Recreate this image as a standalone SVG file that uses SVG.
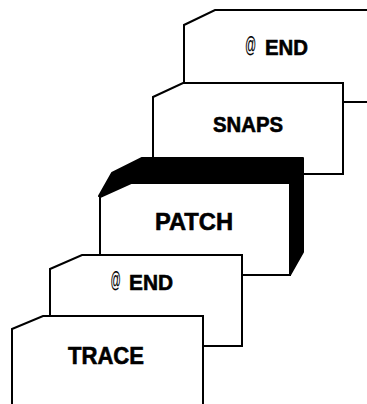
<svg xmlns="http://www.w3.org/2000/svg" width="367" height="404" viewBox="0 0 367 404">
<style>
.card{fill:#fff;stroke:#000;stroke-width:2;stroke-linejoin:miter}
.shadow{fill:#000;stroke:#000;stroke-width:2;stroke-linejoin:round}
.lbl{font-family:"Liberation Sans",Arial,sans-serif;font-weight:bold;fill:#000;stroke:#000;stroke-width:0.6}
.at{font-family:"Liberation Sans",Arial,sans-serif;font-weight:normal;font-size:17px;fill:#000;stroke:#000;stroke-width:0.15}
</style>
<rect width="367" height="404" fill="#fff"/>
<g id="card-end-top">
<path class="card" d="M184,115 V25 L215,10 H372 V102 H300 Z"/>
<text class="at" transform="translate(245,52) scale(0.65,1.3)">@</text>
<text class="lbl" x="265" y="55" font-size="22" textLength="43" lengthAdjust="spacingAndGlyphs">END</text>
</g>
<g id="card-snaps">
<path class="card" d="M153,180 V97 L183,83 H343 V174 H200 Z"/>
<text class="lbl" x="213" y="132" font-size="21.5" textLength="70" lengthAdjust="spacingAndGlyphs">SNAPS</text>
</g>
<g id="card-patch">
<path class="shadow" d="M99,196 L112,173 L142,158 H303 V252 L290,275 V183 H131 Z"/>
<path class="card" d="M100,275 V197 L131,183 H290 V275 Z"/>
<text class="lbl" x="155" y="230" font-size="23.5" textLength="78" lengthAdjust="spacingAndGlyphs">PATCH</text>
</g>
<g id="card-end-bottom">
<path class="card" d="M50,350 V269 L82,255 H242 V346 H150 Z"/>
<text class="at" transform="translate(110.5,287) scale(0.6,1.3)">@</text>
<text class="lbl" x="129" y="290" font-size="22" textLength="44" lengthAdjust="spacingAndGlyphs">END</text>
</g>
<g id="card-trace">
<path class="card" d="M12,410 V329 L43,316 H203 V410 Z"/>
<text class="lbl" x="68" y="364" font-size="23.5" textLength="76" lengthAdjust="spacingAndGlyphs">TRACE</text>
</g>
<g id="connectors"></g>
</svg>
